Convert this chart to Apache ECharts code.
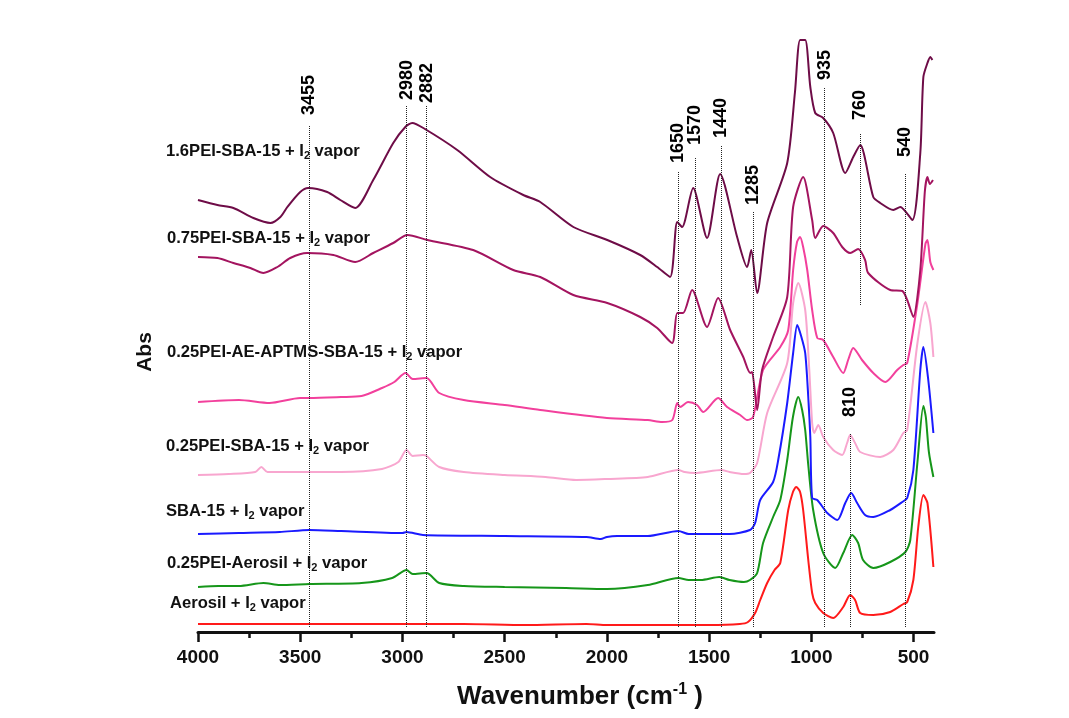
<!DOCTYPE html>
<html>
<head>
<meta charset="utf-8">
<title>FTIR spectra</title>
<script src="https://cdn.jsdelivr.net/npm/echarts@6/dist/echarts.min.js"></script>
<style>
  html, body { margin: 0; background: #fff; }
  #chart { width: 1069px; height: 718px; }
</style>
</head>
<body>
<div id="chart"></div>
<script>
// wavenumber (cm-1) / absorbance (a.u., stacked offsets)
const wnAerosil = [4000, 3700, 3400, 3000, 2700, 2400, 2100, 2000, 1800, 1500, 1350, 1310, 1275, 1250, 1216, 1180, 1152, 1113, 1090, 1074, 1055, 1040, 1015, 996, 981, 942, 893, 844, 810, 786, 761, 697, 614, 550, 531, 501, 477, 452, 432, 403];
const absAerosil = [8, 8, 8, 8, 8, 7, 8, 7, 7, 7, 8, 10, 19, 32, 49, 62, 69, 122, 140, 145, 140, 122, 72, 39, 29, 19, 14, 25, 37, 32, 19, 17, 20, 28, 30, 52, 105, 137, 129, 65];

const wnPeiAerosil = [4000, 3900, 3800, 3680, 3600, 3455, 3200, 3050, 2980, 2950, 2882, 2820, 2700, 2500, 2200, 2000, 1800, 1650, 1600, 1540, 1450, 1400, 1330, 1300, 1265, 1236, 1187, 1152, 1118, 1090, 1064, 1045, 1030, 1015, 991, 942, 883, 844, 800, 771, 747, 697, 614, 540, 516, 480, 452, 440, 425, 403];
const absPeiAerosil = [45, 46, 46, 49, 47, 48, 49, 54, 62, 58, 59, 49, 46, 45, 44, 43, 47, 54, 52, 52, 55, 52, 50, 52, 59, 89, 115, 132, 172, 215, 235, 222, 202, 167, 122, 79, 64, 79, 97, 89, 72, 64, 70, 80, 92, 172, 226, 215, 180, 155];

const wnSba = [4000, 3800, 3600, 3455, 3300, 3000, 2980, 2900, 2500, 2100, 2030, 2000, 1950, 1800, 1650, 1600, 1400, 1300, 1275, 1250, 1187, 1162, 1118, 1089, 1069, 1050, 1030, 1015, 1005, 996, 971, 922, 873, 834, 805, 776, 737, 697, 614, 555, 531, 501, 467, 452, 428, 403];
const absSba = [98, 99, 100, 102, 101, 99, 100, 97, 96, 95, 93, 95, 96, 96, 101, 98, 98, 102, 109, 132, 150, 172, 229, 279, 307, 296, 279, 235, 195, 134, 132, 119, 112, 129, 139, 129, 117, 115, 122, 130, 134, 162, 262, 285, 252, 199];

const wnPeiSba = [4000, 3850, 3720, 3690, 3660, 3500, 3300, 3100, 3020, 2980, 2950, 2900, 2882, 2820, 2700, 2500, 2300, 2150, 2000, 1800, 1650, 1620, 1570, 1440, 1400, 1330, 1300, 1265, 1216, 1118, 1089, 1064, 1030, 1010, 996, 986, 966, 942, 893, 849, 825, 810, 786, 761, 663, 599, 550, 531, 481, 442, 418, 403];
const absPeiSba = [157, 158, 160, 165, 160, 160, 160, 163, 170, 182, 176, 177, 176, 165, 160, 157, 155, 152, 153, 155, 162, 160, 159, 162, 160, 158, 159, 169, 219, 269, 329, 349, 322, 262, 209, 199, 207, 195, 182, 177, 189, 197, 189, 180, 175, 182, 199, 202, 289, 330, 309, 275];

const wnAeSba = [4000, 3800, 3650, 3500, 3455, 3300, 3200, 3100, 3040, 2985, 2950, 2882, 2820, 2700, 2500, 2326, 2000, 1800, 1730, 1680, 1656, 1642, 1603, 1559, 1529, 1456, 1412, 1348, 1314, 1285, 1236, 1152, 1113, 1089, 1070, 1055, 1040, 1020, 996, 971, 942, 893, 844, 820, 795, 752, 697, 638, 580, 550, 531, 481, 442, 432, 418, 403];
const absAeSba = [230, 232, 229, 234, 234, 235, 236, 244, 250, 259, 253, 254, 239, 232, 227, 222, 214, 212, 210, 212, 229, 225, 230, 227, 220, 234, 225, 217, 212, 215, 262, 285, 302, 362, 390, 395, 385, 362, 322, 294, 292, 275, 259, 272, 284, 272, 259, 250, 262, 267, 269, 329, 388, 392, 370, 362];

const wnPei075 = [4000, 3905, 3827, 3744, 3680, 3612, 3549, 3466, 3338, 3231, 3143, 3045, 2976, 2878, 2654, 2458, 2326, 2164, 1998, 1837, 1754, 1681, 1656, 1627, 1583, 1510, 1456, 1397, 1333, 1299, 1290, 1265, 1241, 1187, 1118, 1089, 1040, 996, 981, 942, 893, 849, 810, 771, 737, 722, 614, 555, 531, 501, 467, 445, 432, 420, 405];
const absPei075 = [375, 374, 369, 364, 359, 365, 374, 379, 377, 370, 379, 389, 397, 392, 382, 362, 355, 337, 329, 315, 304, 289, 319, 319, 342, 305, 334, 302, 275, 259, 260, 222, 262, 295, 335, 425, 455, 412, 394, 406, 399, 385, 379, 383, 372, 359, 342, 341, 332, 315, 362, 440, 455, 448, 452];

const wnPei16 = [4000, 3905, 3827, 3729, 3646, 3597, 3563, 3500, 3461, 3368, 3304, 3231, 3143, 3045, 2986, 2952, 2898, 2732, 2571, 2409, 2326, 2164, 1998, 1837, 1754, 1691, 1656, 1632, 1578, 1510, 1446, 1363, 1314, 1294, 1265, 1216, 1118, 1080, 1055, 1030, 1005, 981, 942, 893, 834, 795, 761, 697, 663, 599, 565, 506, 467, 452, 432, 418, 408];
const absPei16 = [432, 427, 424, 414, 409, 415, 425, 440, 444, 440, 432, 424, 452, 489, 505, 509, 504, 482, 455, 437, 430, 405, 392, 377, 365, 355, 410, 405, 444, 394, 458, 395, 365, 382, 339, 409, 469, 540, 592, 592, 545, 519, 514, 499, 459, 475, 487, 435, 429, 422, 425, 412, 479, 555, 569, 575, 572];

// marked bands: position, dotted line extent, label height
const peakWn = [3455, 2980, 2882, 1650, 1570, 1440, 1285, 935, 810, 760, 540];
const peakLineLow = [5, 5, 5, 5, 5, 5, 5, 5, 5, 327, 5];
const peakLineHigh = [506, 527, 527, 460, 475, 487, 420, 544, 199, 499, 459];
const peakLabelY = [517, 532, 529, 469, 487, 494, 427, 552, 215, 512, 475];

const majorTicks = [4000, 3500, 3000, 2500, 2000, 1500, 1000, 500];
const minorTicks = [3750, 3250, 2750, 2250, 1750, 1250, 750];

const font = '"Liberation Sans", Arial, Helvetica, sans-serif';

const chart = echarts.init(document.getElementById('chart'));

function spectrum(name, wn, ab, color) {
  return {
    name: name,
    type: 'line',
    data: wn.map((w, i) => [w, ab[i]]),
    showSymbol: false,
    symbol: 'none',
    smooth: 0.25,
    lineStyle: { color: color, width: 2 },
    silent: true,
    z: 3
  };
}

function nameLabel(before, after, x, y) {
  return {
    type: 'text',
    x: x,
    y: y,
    style: {
      text: '{t|' + before + '}{s|2}{t|' + after + '}',
      verticalAlign: 'middle',
      rich: {
        t: { fontSize: 16.6, fontWeight: 'bold', fontFamily: font, fill: '#111', lineHeight: 20 },
        s: { fontSize: 11, fontWeight: 'bold', fontFamily: font, fill: '#111', lineHeight: 10, verticalAlign: 'bottom' }
      }
    }
  };
}

let option = {
  animation: false,
  backgroundColor: '#fff',
  grid: { left: 198, right: 135, top: 32, bottom: 86 },
  xAxis: [
    {
      type: 'value',
      min: 400,
      max: 4000,
      inverse: true,
      axisLine: { show: true, onZero: false, lineStyle: { color: '#111', width: 3 } },
      axisTick: { show: true, length: 10, customValues: majorTicks, lineStyle: { color: '#111', width: 2.5 } },
      axisLabel: {
        customValues: majorTicks,
        formatter: v => String(v),
        margin: 16,
        fontSize: 19,
        fontWeight: 'bold',
        color: '#111',
        fontFamily: font
      },
      splitLine: { show: false },
      name: '{b|Wavenumber (cm}{p|-1}{b| )}',
      nameLocation: 'middle',
      nameGap: 50,
      nameTextStyle: {
        padding: [0, 0, 0, 28],
        rich: {
          b: { fontSize: 26, fontWeight: 'bold', fontFamily: font, color: '#111', lineHeight: 30 },
          p: { fontSize: 16, fontWeight: 'bold', fontFamily: font, color: '#111', lineHeight: 16, verticalAlign: 'top' }
        }
      }
    },
    {
      type: 'value',
      min: 400,
      max: 4000,
      inverse: true,
      position: 'bottom',
      axisLine: { show: false },
      axisTick: { show: true, length: 6, customValues: minorTicks, lineStyle: { color: '#111', width: 2.5 } },
      axisLabel: { show: false },
      splitLine: { show: false }
    }
  ],
  yAxis: {
    type: 'value',
    min: 0,
    max: 600,
    axisLine: { show: false },
    axisTick: { show: false },
    axisLabel: { show: false },
    splitLine: { show: false },
    name: 'Abs',
    nameLocation: 'middle',
    nameRotate: 90,
    nameGap: 42,
    nameTextStyle: { fontSize: 21, fontWeight: 'bold', color: '#111', fontFamily: font, padding: [0, 40, 0, 0] }
  },
  series: [
    spectrum('Aerosil + I2 vapor', wnAerosil, absAerosil, '#ff1a1a'),
    spectrum('0.25PEI-Aerosil + I2 vapor', wnPeiAerosil, absPeiAerosil, '#16961a'),
    spectrum('SBA-15 + I2 vapor', wnSba, absSba, '#1a1aff'),
    spectrum('0.25PEI-SBA-15 + I2 vapor', wnPeiSba, absPeiSba, '#f8a6cf'),
    spectrum('0.25PEI-AE-APTMS-SBA-15 + I2 vapor', wnAeSba, absAeSba, '#f2409c'),
    spectrum('0.75PEI-SBA-15 + I2 vapor', wnPei075, absPei075, '#a3145f'),
    spectrum('1.6PEI-SBA-15 + I2 vapor', wnPei16, absPei16, '#6e0c47'),
    {
      name: 'bands',
      type: 'scatter',
      data: peakWn.map((w, i) => [w, peakLabelY[i]]),
      symbol: 'circle',
      symbolSize: 0.1,
      itemStyle: { color: '#111', opacity: 1 },
      silent: true,
      z: 2,
      label: {
        show: true,
        position: 'top',
        distance: 0,
        rotate: 90,
        align: 'left',
        verticalAlign: 'middle',
        fontSize: 18,
        fontWeight: 'bold',
        fontFamily: font,
        color: '#000',
        opacity: 1,
        formatter: p => String(p.value[0])
      },
      markLine: {
        silent: true,
        symbol: ['none', 'none'],
        label: { show: false },
        lineStyle: { type: 'dotted', color: '#222', width: 1 },
        data: peakWn.map((w, i) => [{ coord: [w, peakLineLow[i]] }, { coord: [w, peakLineHigh[i]] }])
      }
    }
  ],
  graphic: [
    nameLabel('1.6PEI-SBA-15 + I', ' vapor', 166, 151),
    nameLabel('0.75PEI-SBA-15 + I', ' vapor', 167, 238),
    nameLabel('0.25PEI-AE-APTMS-SBA-15 + I', ' vapor', 167, 352),
    nameLabel('0.25PEI-SBA-15 + I', ' vapor', 166, 446),
    nameLabel('SBA-15 + I', ' vapor', 166, 511),
    nameLabel('0.25PEI-Aerosil + I', ' vapor', 167, 563),
    nameLabel('Aerosil + I', ' vapor', 170, 603)
  ]
};

chart.setOption(option);
</script>
</body>
</html>
